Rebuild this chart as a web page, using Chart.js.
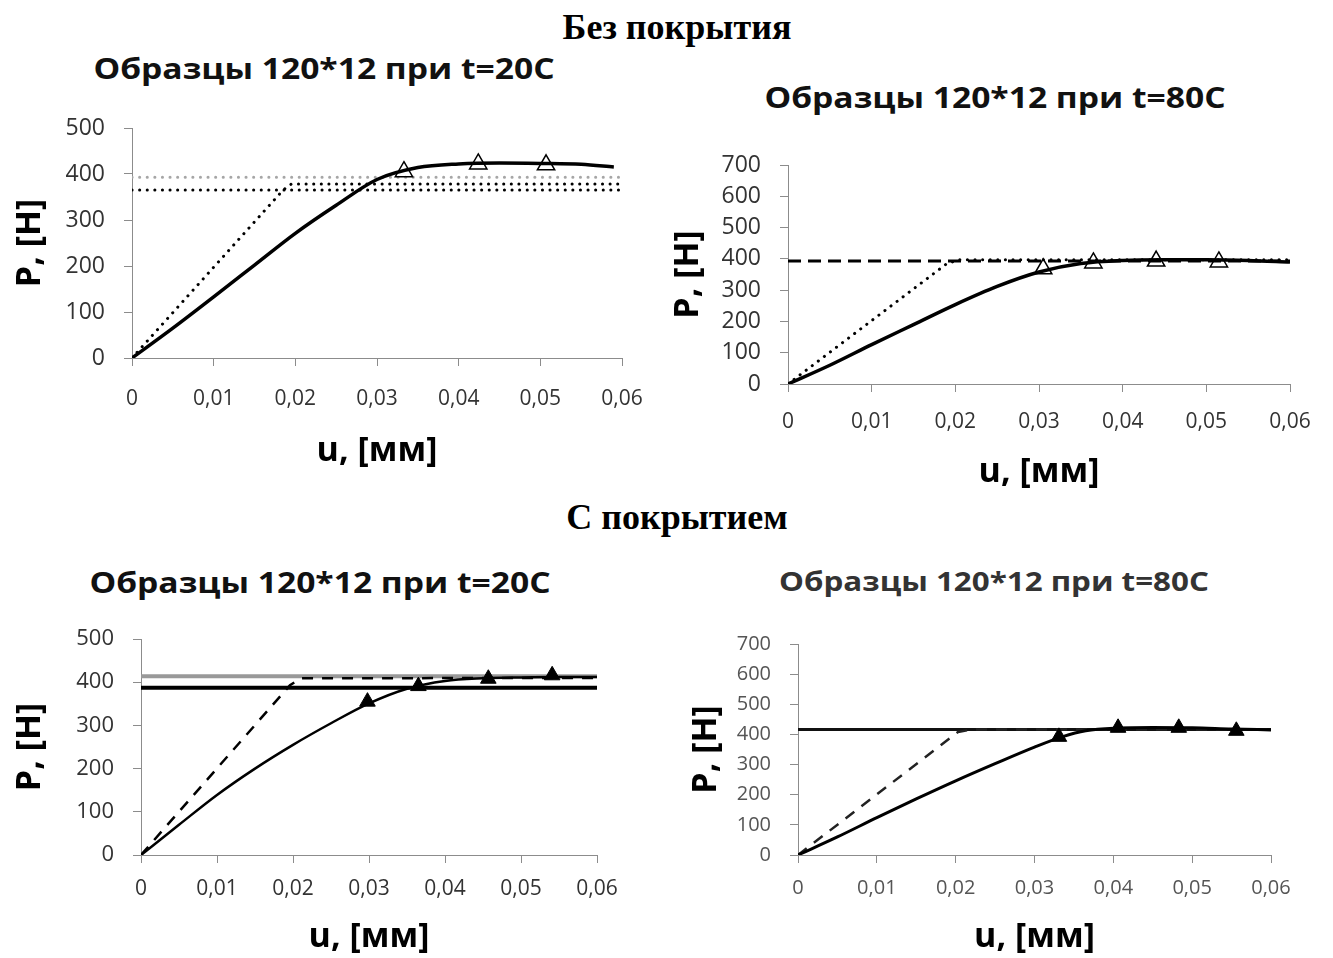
<!DOCTYPE html>
<html>
<head>
<meta charset="utf-8">
<script src="https://cdn.jsdelivr.net/npm/chart.js@4.4.1/dist/chart.umd.min.js"></script>
<style>
  body { margin:0; width:1333px; height:958px; background:#fff; position:relative; overflow:hidden; }
  .sect { position:absolute; font-family:'Liberation Serif', serif; font-weight:bold; font-size:36px; line-height:1; transform:translate(-50%,-50%); white-space:nowrap; color:#000; }
  .ttl { position:absolute; font-family:'Open Sans', sans-serif; font-weight:bold; font-size:28px; line-height:1; transform:translate(-50%,-50%) scaleX(1.2); white-space:nowrap; color:#111; }
  canvas { position:absolute; }
</style>
</head>
<body>
<div class="sect" style="left:677px;top:27px">Без покрытия</div>
<div class="sect" style="left:677px;top:517px">С покрытием</div>
<div class="ttl" style="left:324px;top:68px">Образцы 120*12 при t=20C</div>
<div class="ttl" style="left:995px;top:97px">Образцы 120*12 при t=80C</div>
<div class="ttl" style="left:320px;top:582px">Образцы 120*12 при t=20C</div>
<div class="ttl" style="left:994px;top:580px;color:#333;font-size:27px;transform:translate(-50%,-50%) scaleX(1.16)">Образцы 120*12 при t=80C</div>

<canvas id="c1" width="660" height="370" style="left:0;top:110px"></canvas>
<canvas id="c2" width="673" height="355" style="left:660px;top:140px"></canvas>
<canvas id="c3" width="660" height="338" style="left:0;top:620px"></canvas>
<canvas id="c4" width="673" height="338" style="left:660px;top:620px"></canvas>

<script>
// tick labels
var uTicks = [0, 0.01, 0.02, 0.03, 0.04, 0.05, 0.06];
var pTicks500 = [0, 100, 200, 300, 400, 500];
var pTicks700 = [0, 100, 200, 300, 400, 500, 600, 700];

// Без покрытия, t=20C
var u20 = [0, 0.005, 0.01, 0.015, 0.02, 0.025, 0.03, 0.035, 0.04, 0.045, 0.05, 0.055, 0.059];
var P20 = [0, 65, 133, 202, 271, 332, 388, 414, 422, 424, 423, 421, 415];
var u20tri = [0.0333, 0.0424, 0.0507];
var P20tri = [405, 422, 420];
var u20mod = [0, 0.0185, 0.0195, 0.06];
var P20mod = [0, 365, 378, 378];
var P20black = 365;
var P20gray = 393;

// Без покрытия, t=80C
var u80 = [0, 0.005, 0.01, 0.015, 0.02, 0.025, 0.03, 0.035, 0.04, 0.045, 0.05, 0.055, 0.06];
var P80 = [0, 60, 126, 190, 254, 312, 358, 385, 395, 397, 397, 395, 390];
var u80tri = [0.0305, 0.0365, 0.044, 0.0515];
var P80tri = [368, 387, 393, 390];
var u80mod = [0, 0.019, 0.0205, 0.06];
var P80mod = [0, 385, 397, 397];
var P80dash = 393;

// С покрытием, t=20C
var u20c = [0, 0.005, 0.01, 0.015, 0.02, 0.025, 0.03, 0.035, 0.04, 0.045, 0.05, 0.055, 0.06];
var P20c = [0, 70, 139, 200, 255, 305, 351, 385, 403, 409, 411, 412, 412];
var u20ctri = [0.0298, 0.0365, 0.0457, 0.0541];
var P20ctri = [355, 391, 408, 416];
var u20cmod = [0, 0.0196, 0.021, 0.06];
var P20cmod = [0, 393, 409, 410];
var P20cgray = 414;
var P20cblack = 387;

// С покрытием, t=80C
var u80c = [0, 0.005, 0.01, 0.015, 0.02, 0.025, 0.03, 0.0335, 0.0365, 0.0405, 0.045, 0.05, 0.055, 0.06];
var P80c = [0, 60, 124, 186, 246, 303, 358, 392, 412, 421, 423, 422, 418, 415];
var u80ctri = [0.0331, 0.0406, 0.0483, 0.0556];
var P80ctri = [392, 422, 422, 412];
var u80cmod = [0, 0.0203, 0.022, 0.06];
var P80cmod = [0, 408, 416, 416];
var P80clevel = 416;

Chart.defaults.font.family = "'Open Sans', sans-serif";
Chart.defaults.animation = false;

function pts(xs, ys) {
    return xs.map(function(x, i){ return {x: x, y: ys[i]}; });
}
function level(p) {
    return [{x: uTicks[0], y: p}, {x: uTicks[uTicks.length - 1], y: p}];
}
function curve(data, w) {
    return {data: data, showLine: true, borderColor: '#000', borderWidth: w, pointRadius: 0,
            cubicInterpolationMode: 'monotone', fill: false};
}
function flat(data, color, w, dash) {
    return {data: data, showLine: true, borderColor: color, borderWidth: w, pointRadius: 0,
            borderDash: dash || [], borderCapStyle: dash && dash[0] < 1 ? 'round' : 'butt', tension: 0, fill: false};
}
function tri(data, filled, r) {
    return {data: data, showLine: false, pointStyle: 'triangle', pointRadius: r,
            pointBackgroundColor: filled ? '#000' : 'rgba(0,0,0,0)', pointBorderColor: '#000',
            pointBorderWidth: filled ? 1 : 1.5};
}

function makeChart(id, o) {
    var ctx = document.getElementById(id);
    return new Chart(ctx, {
        type: 'scatter',
        data: {datasets: o.datasets},
        options: {
            responsive: false,
            layout: {padding: {top: o.padTop, right: o.padRight, bottom: 0, left: 0}},
            plugins: {legend: {display: false}, tooltip: {enabled: false}},
            scales: {
                x: {
                    type: 'linear', min: uTicks[0], max: uTicks[uTicks.length - 1],
                    afterBuildTicks: function(s){ s.ticks = uTicks.map(function(v){ return {value: v}; }); },
                    afterFit: function(s){ s.height = o.xH; s.paddingLeft = 0; s.paddingRight = 0; },
                    grid: {drawOnChartArea: false, drawTicks: true, tickLength: 8, color: '#8c8c8c'},
                    border: {color: '#8c8c8c'},
                    ticks: {padding: o.xTickPad, color: o.tickColor, font: {size: o.xTickSize},
                            maxRotation: 0, autoSkip: false,
                            callback: function(v){ return v === 0 ? '0' : v.toFixed(2).replace('.', ','); }},
                    title: {display: true, text: 'u, [мм]', color: '#000',
                            font: {size: 34, weight: 'bold'}, padding: {top: 0, bottom: o.xTitlePad}}
                },
                y: {
                    min: o.yTicks[0], max: o.yTicks[o.yTicks.length - 1],
                    afterBuildTicks: function(s){ s.ticks = o.yTicks.map(function(v){ return {value: v}; }); },
                    afterFit: function(s){ s.width = o.yW; s.paddingTop = 0; s.paddingBottom = 0; },
                    grid: {drawOnChartArea: false, drawTicks: true, tickLength: 8, color: '#8c8c8c'},
                    border: {color: '#8c8c8c'},
                    ticks: {padding: 19, color: o.tickColor, font: {size: o.yTickSize}, autoSkip: false},
                    title: {display: true, text: 'P, [H]', color: '#000',
                            font: {size: 34, weight: 'bold'}, padding: {top: o.yTitlePad, bottom: 0}}
                }
            }
        }
    });
}

makeChart('c1', {
    padTop: 18, padRight: 38, yW: 132, xH: 122, xTickPad: 20, xTitlePad: 8, yTitlePad: 10,
    tickColor: '#333', yTicks: pTicks500, yTickSize: 23, xTickSize: 21,
    datasets: [
        tri(pts(u20tri, P20tri), false, 10),
        curve(pts(u20, P20), 3.5),
        flat(pts(u20mod, P20mod), '#000', 3, [0.1, 7.5]),
        flat(level(P20black), '#000', 3, [0.1, 7.5]),
        flat(level(P20gray), '#a6a6a6', 3, [0.1, 7.5])
    ]
});

makeChart('c2', {
    padTop: 25, padRight: 43, yW: 128, xH: 111, xTickPad: 17, xTitlePad: 2, yTitlePad: 8,
    tickColor: '#333', yTicks: pTicks700, yTickSize: 23, xTickSize: 21,
    datasets: [
        tri(pts(u80tri, P80tri), false, 10),
        curve(pts(u80, P80), 3.5),
        flat(pts(u80mod, P80mod), '#000', 3, [0.1, 7.5]),
        flat(level(P80dash), '#000', 3, [13, 7])
    ]
});

makeChart('c3', {
    padTop: 19, padRight: 63, yW: 141, xH: 103, xTickPad: 13, xTitlePad: 0, yTitlePad: 10,
    tickColor: '#333', yTicks: pTicks500, yTickSize: 22, xTickSize: 21,
    datasets: [
        tri(pts(u20ctri, P20ctri), true, 9),
        curve(pts(u20c, P20c), 2.5),
        flat(pts(u20cmod, P20cmod), '#000', 2.5, [11, 9]),
        flat(level(P20cblack), '#000', 4, null),
        flat(level(P20cgray), '#999', 4, null)
    ]
});

makeChart('c4', {
    padTop: 24, padRight: 62, yW: 138, xH: 103, xTickPad: 13, xTitlePad: 0, yTitlePad: 26,
    tickColor: '#555', yTicks: pTicks700, yTickSize: 20, xTickSize: 20,
    datasets: [
        tri(pts(u80ctri, P80ctri), true, 9),
        curve(pts(u80c, P80c), 3),
        flat(pts(u80cmod, P80cmod), '#222', 2.5, [11, 9]),
        flat(level(P80clevel), '#111', 3, null)
    ]
});
</script>
</body>
</html>
